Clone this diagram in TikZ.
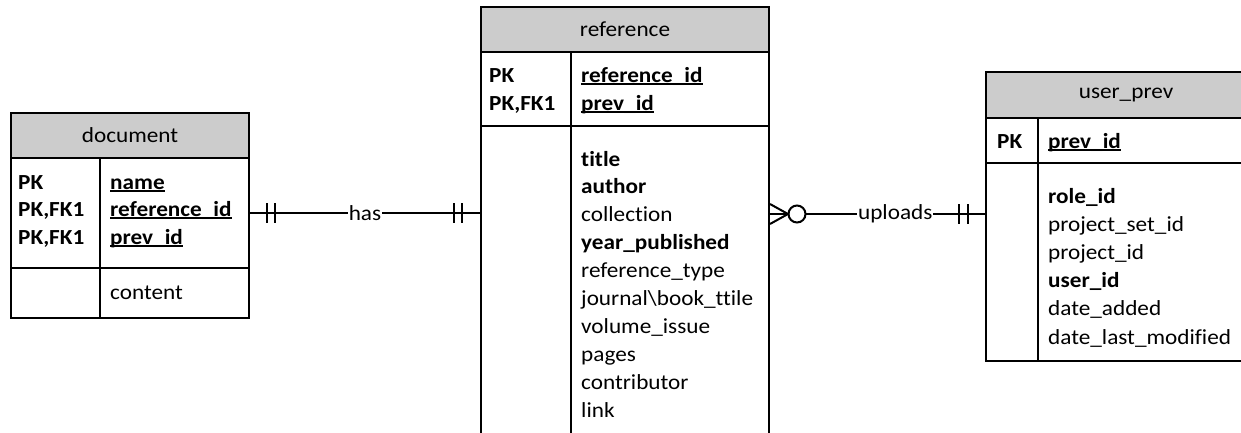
\documentclass[tikz,border=0pt]{standalone}
\usepackage{fontspec}
\setmainfont[Ligatures=NoCommon, FakeStretch=1.08]{Carlito}
\definecolor{headgray}{HTML}{CCCCCC}
% bold key field with an underline sitting just under the baseline
\newcommand\keyfield[1]{\setbox0\hbox{\bfseries #1}\rlap{\rule[-2.6pt]{\wd0}{1.5pt}}\box0}
\begin{document}
\begin{tikzpicture}[x=1pt,y=-1pt,
  font=\fontsize{21.5}{28}\selectfont,
  tbl/.style={draw, line width=2pt, inner sep=0, anchor=north west},
  hdr/.style={tbl, fill=headgray},
  fld/.style={anchor=base west, inner sep=0},
  rel/.style={line width=2pt},
  lbl/.style={fill=white, inner sep=1pt}]
\useasboundingbox (0,0) rectangle (1241,432);

% ---------- document ----------
\node[hdr, minimum width=238, minimum height=45] (doc-h) at (10,112) {document};
\node[tbl, minimum width=238, minimum height=160] (doc) at (10,157) {};
\draw[line width=2pt] (100,157) -- (100,317);
\draw[line width=2pt] (10,268) -- (248,268);
\node[fld] (doc-k1) at (18,189) {\bfseries PK};
\node[fld] (doc-k2) at (18,216) {\bfseries PK,FK1};
\node[fld] (doc-k3) at (18,244) {\bfseries PK,FK1};
\node[fld] (doc-f1) at (110,189) {\keyfield{name}};
\node[fld] (doc-f2) at (110,216) {\keyfield{reference\_id}};
\node[fld] (doc-f3) at (110,244) {\keyfield{prev\_id}};
\node[fld] (doc-f4) at (110,299) {content};

% ---------- reference ----------
\node[hdr, minimum width=288, minimum height=45] (ref-h) at (480,6) {reference};
\node[tbl, minimum width=288, minimum height=420] (ref) at (480,51) {};
\draw[line width=2pt] (571,51) -- (571,480);
\draw[line width=2pt] (480,126) -- (768,126);
\node[fld] (ref-k1) at (489,82) {\bfseries PK};
\node[fld] (ref-k2) at (489,110) {\bfseries PK,FK1};
\node[fld] (ref-p1) at (581,82) {\keyfield{reference\_id}};
\node[fld] (ref-p2) at (581,110) {\keyfield{prev\_id}};
\foreach \t [count=\i from 0] in {%
  {\bfseries title},{\bfseries author},collection,{\bfseries year\_published},
  reference\_type,journal\textbackslash book\_ttile,volume\_issue,pages,
  contributor,link}
  \node[fld] (ref-f\i) at (581,166+27.9*\i) {\t};

% ---------- user_prev ----------
\node[hdr, minimum width=280, minimum height=46] (usr-h) at (985,71) {user\_prev};
\node[tbl, minimum width=280, minimum height=243] (usr) at (985,117) {};
\draw[line width=2pt] (1038,117) -- (1038,360);
\draw[line width=2pt] (985,163) -- (1265,163);
\node[fld] (usr-k1) at (997,148) {\bfseries PK};
\node[fld] (usr-p1) at (1048,148) {\keyfield{prev\_id}};
\foreach \t [count=\i from 0] in {%
  {\bfseries role\_id},project\_set\_id,project\_id,{\bfseries user\_id},
  date\_added,date\_last\_modified}
  \node[fld] (usr-f\i) at (1048,203+28.2*\i) {\t};

% ---------- has: document -- reference (one and only one on both sides) ----------
\coordinate (hasL) at (doc.east |- 0,213);
\coordinate (hasR) at (ref.west |- 0,213);
\draw[rel] (hasL) -- node[lbl] (has) {has} (hasR);
\draw[rel] ([xshift=17]hasL) ++(0,-10) -- ++(0,20);
\draw[rel] ([xshift=25]hasL) ++(0,-10) -- ++(0,20);
\draw[rel] ([xshift=-18]hasR) ++(0,-10) -- ++(0,20);
\draw[rel] ([xshift=-26]hasR) ++(0,-10) -- ++(0,20);

% ---------- uploads: reference (zero or many) -- user_prev (one and only one) ----------
\coordinate (upL) at (ref.east |- 0,214);
\coordinate (upR) at (usr.west |- 0,214);
\coordinate (crow) at ([xshift=18]upL);
\draw[rel] ([yshift=-10]upL) -- (crow) -- ([yshift=10]upL);
\draw[rel] (upL) -- (crow);
\draw[rel] ([xshift=27]upL) circle[radius=8.5];
\draw[rel] ([xshift=35.5]upL) -- node[lbl] (uploads) {uploads} (upR);
\draw[rel] ([xshift=-17]upR) ++(0,-10) -- ++(0,20);
\draw[rel] ([xshift=-26]upR) ++(0,-10) -- ++(0,20);
\end{tikzpicture}
\end{document}
